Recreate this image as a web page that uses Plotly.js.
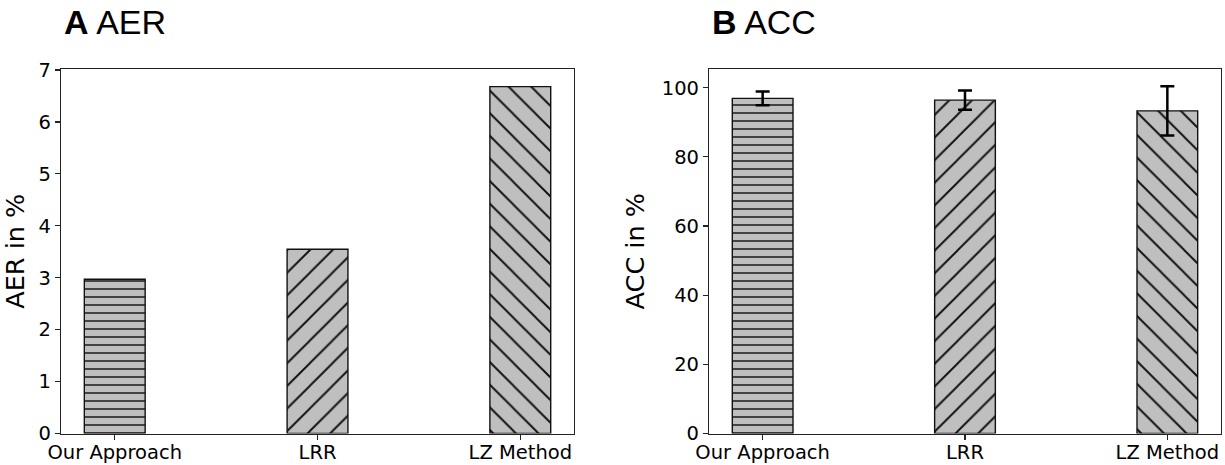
<!DOCTYPE html>
<html>
<head>
<meta charset="utf-8">
<script src="https://cdn.plot.ly/plotly-3.0.1.min.js"></script>
<style>html,body{margin:0;padding:0;background:#fff;}#chart{width:1225px;height:465px;}</style>
</head>
<body>
<div id="chart"></div>
<script>
const categories = ["Our Approach", "LRR", "LZ Method"];
const aerValues = [2.97, 3.55, 6.68];
const accValues = [96.9, 96.4, 93.3];
const accErrors = [2.0, 2.8, 7.1];
const hatchShapes = ["-", "/", "\\"];
const hatchSizes = [8, 16, 16];
const hatchSolidity = [0.18, 0.12, 0.12];

const barColor = "#bfbfbf";
function marker() {
  return {
    color: barColor,
    line: {color: "#111", width: 1.4},
    pattern: {shape: hatchShapes, size: hatchSizes, solidity: hatchSolidity,
              fgcolor: "#111", bgcolor: barColor, fillmode: "replace"}
  };
}

const traces = [
  {type: "bar", x: categories, y: aerValues, width: 0.3, xaxis: "x", yaxis: "y",
   marker: marker(), showlegend: false, hoverinfo: "skip"},
  {type: "bar", x: categories, y: accValues, width: 0.3, xaxis: "x2", yaxis: "y2",
   marker: marker(), showlegend: false, hoverinfo: "skip",
   error_y: {type: "data", array: accErrors, visible: true, color: "#000", thickness: 2.5, width: 7}}
];

const tickFont = {family: "DejaVu Sans", size: 19.5, color: "#000"};
const titleFont = {family: "DejaVu Sans", size: 25.5, color: "#000"};
function xa(domain) {
  return {domain: domain, type: "category", range: [-0.265, 2.265], showline: true, mirror: true,
    linecolor: "#222", linewidth: 1.1, ticks: "outside", ticklen: 5, tickcolor: "#222", tickwidth: 1.1,
    tickfont: tickFont, ticklabelstandoff: -4, showgrid: false, zeroline: false, fixedrange: true};
}
function ya(range, dtick, anchor) {
  return {domain: [0.0677, 0.8516], range: range, dtick: dtick, tick0: 0, anchor: anchor,
    showline: true, mirror: true, linecolor: "#222", linewidth: 1.1, ticks: "outside", ticklen: 5,
    tickcolor: "#222", tickwidth: 1.1, tickfont: tickFont, showgrid: false, zeroline: false,
    fixedrange: true, title: {font: titleFont, standoff: 9}};
}
const yaxis = ya([0, 7.02], 1, "x"); yaxis.title.text = "AER in %";
const yaxis2 = ya([0, 105.4], 20, "x2"); yaxis2.title.text = "ACC in %";
const xaxis = xa([0.0498, 0.4686]); xaxis.anchor = "y";
const xaxis2 = xa([0.5788, 0.9967]); xaxis2.anchor = "y2";

const headFont = {family: "Liberation Sans Narrow, Arial Narrow, Liberation Sans, Arial", size: 34, color: "#000"};
const layout = {
  width: 1225, height: 465,
  margin: {l: 0, r: 0, t: 0, b: 0},
  paper_bgcolor: "#fff", plot_bgcolor: "#fff",
  xaxis: xaxis, yaxis: yaxis, xaxis2: xaxis2, yaxis2: yaxis2,
  bargap: 0,
  annotations: [
    {text: "<b>A</b> AER", xref: "paper", yref: "paper", x: 62 / 1225, y: 1 - 22 / 465,
     xanchor: "left", yanchor: "middle", showarrow: false, font: headFont},
    {text: "<b>B</b> ACC", xref: "paper", yref: "paper", x: 710 / 1225, y: 1 - 22 / 465,
     xanchor: "left", yanchor: "middle", showarrow: false, font: headFont}
  ]
};
Plotly.newPlot("chart", traces, layout, {staticPlot: true, displayModeBar: false});
</script>
</body>
</html>
